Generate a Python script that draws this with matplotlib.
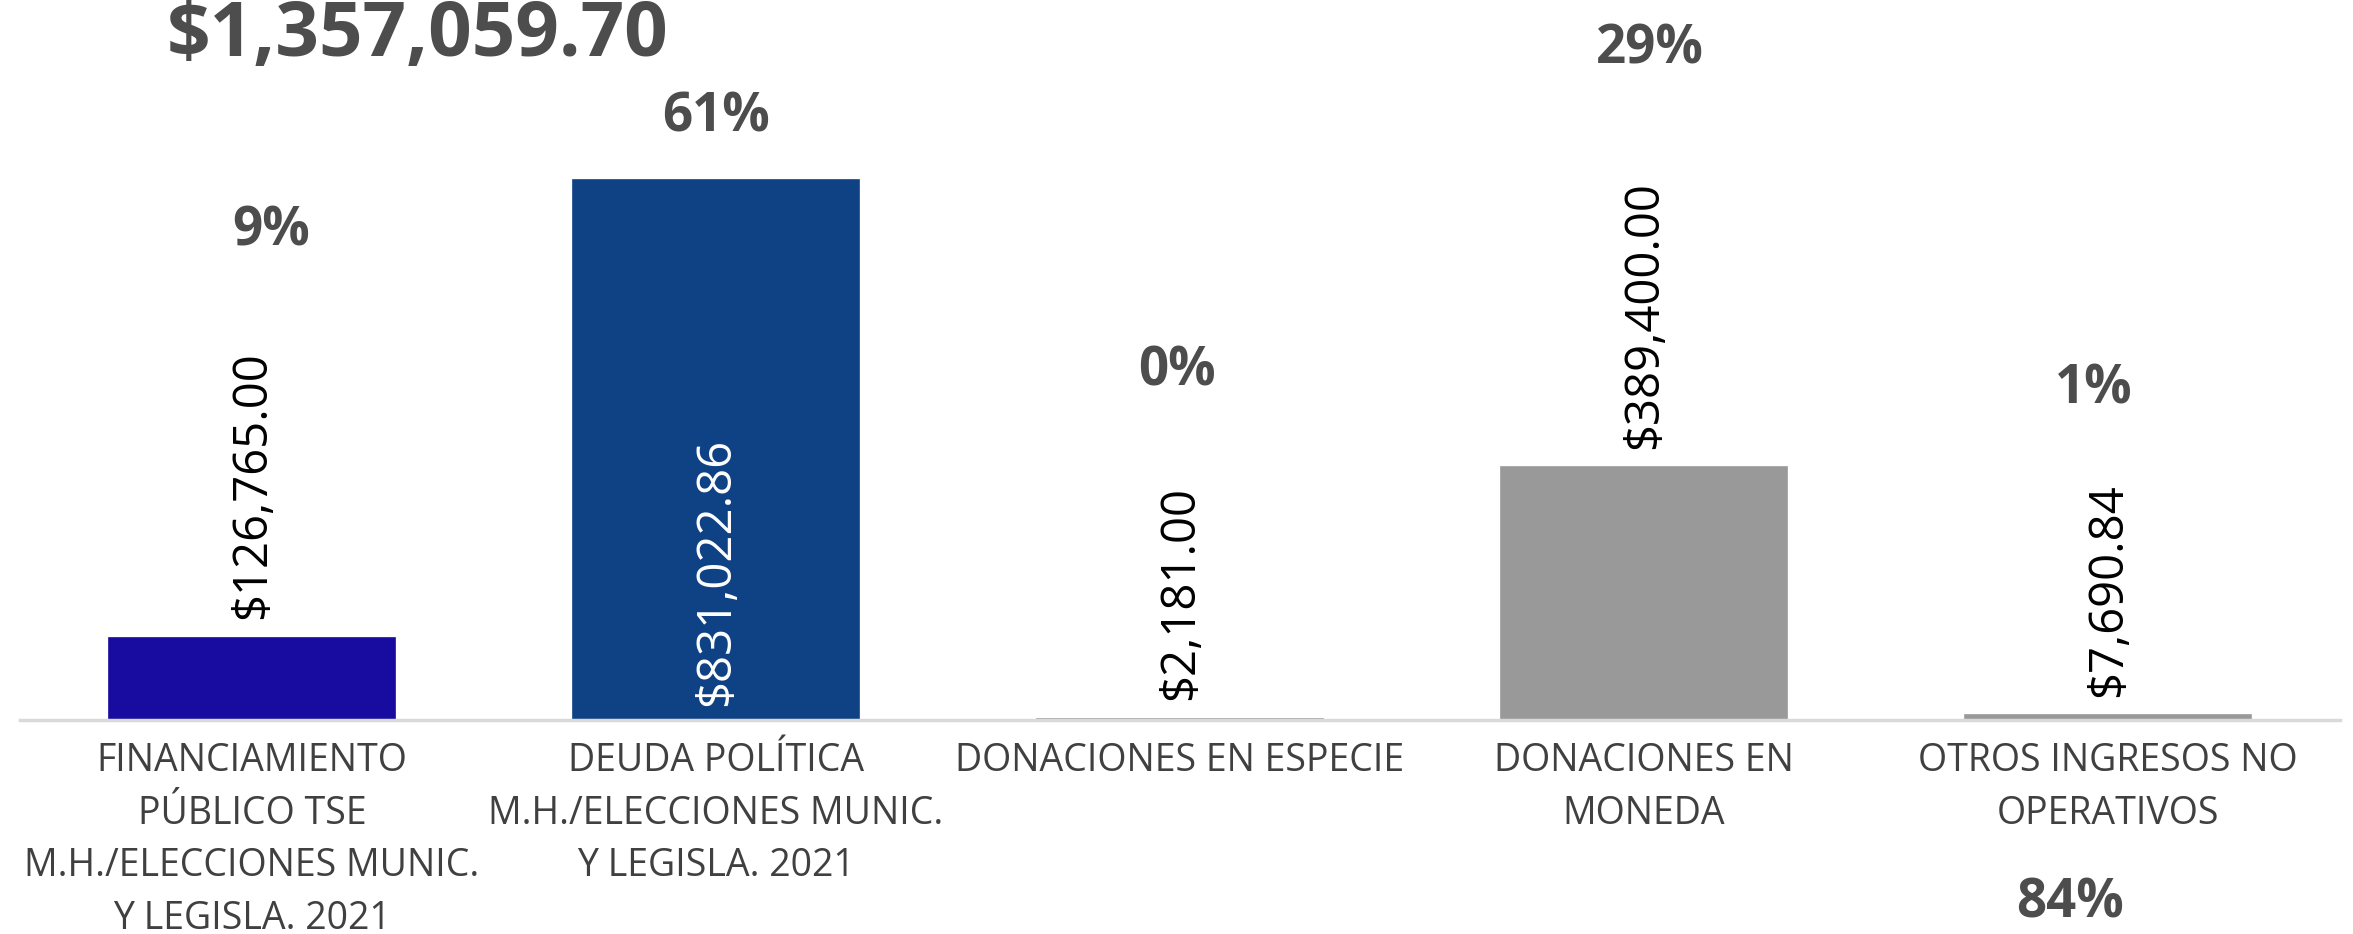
import matplotlib
matplotlib.use("Agg")
import matplotlib.pyplot as plt

# data -----------------------------------------------------------------
categorias = [
    "FINANCIAMIENTO\nPÚBLICO TSE\nM.H./ELECCIONES MUNIC.\nY LEGISLA. 2021",
    "DEUDA POLÍTICA\nM.H./ELECCIONES MUNIC.\nY LEGISLA. 2021",
    "DONACIONES EN ESPECIE",
    "DONACIONES EN\nMONEDA",
    "OTROS INGRESOS NO\nOPERATIVOS",
]
montos = [126765.00, 831022.86, 2181.00, 389400.00, 7690.84]
etiquetas = ["$126,765.00", "$831,022.86", "$2,181.00", "$389,400.00", "$7,690.84"]
porcentajes = ["9%", "61%", "0%", "29%", "1%", "84%"]
total = "$1,357,059.70"

colores = ["#170ba0", "#0f4285", "#999999", "#999999", "#999999"]

plt.rcParams["font.family"] = ["Open Sans", "DejaVu Sans"]

W, H = 2353, 934
fig = plt.figure(figsize=(W / 100, H / 100), dpi=100)
fig.patch.set_facecolor("white")

ax = fig.add_axes([20 / W, (H - 720) / H, 2320 / W, 720 / H])
ax.set_facecolor("none")
x = list(range(len(montos)))
# thin edge so the very small bars still show as a line
ax.bar(x, montos, width=0.615, color=colores, edgecolor=colores, linewidth=1.2, zorder=2)
ax.set_xlim(-0.5, 4.5)
ax.set_ylim(0, 1.108e6)

for s in ["top", "right", "left"]:
    ax.spines[s].set_visible(False)
ax.spines["bottom"].set_color("#d9d9d9")
ax.spines["bottom"].set_linewidth(2.5)
ax.set_yticks([])
ax.set_xticks(x)
ax.set_xticklabels(categorias, fontsize=27, color="#404040", linespacing=1.5, va="top")
ax.tick_params(axis="x", length=0, pad=16)

# value labels
for i, v in enumerate(montos):
    if i == 1:
        ax.text(i, 22000, etiquetas[i], rotation=90, ha="center", va="bottom",
                fontsize=34, color="white")
    else:
        ax.text(i, v + 28000, etiquetas[i], rotation=90, ha="center", va="bottom",
                fontsize=34, color="black")

# percentage boxes (placed like the original overlay)
pos_pct = [(271, 232), (716, 117), (1177, 372), (1650, 50), (2094, 390), (2070, 904)]
for p, (px, py) in zip(porcentajes, pos_pct):
    fig.text(px / W, 1 - py / H, p, ha="center", va="center", fontsize=38,
             fontweight="bold", color="#4d4d4d")

fig.text(418 / W, 1 - 36 / H, total, ha="center", va="center", fontsize=55,
         fontweight="bold", color="#4d4d4d")

fig.savefig("out.png", dpi=100)
